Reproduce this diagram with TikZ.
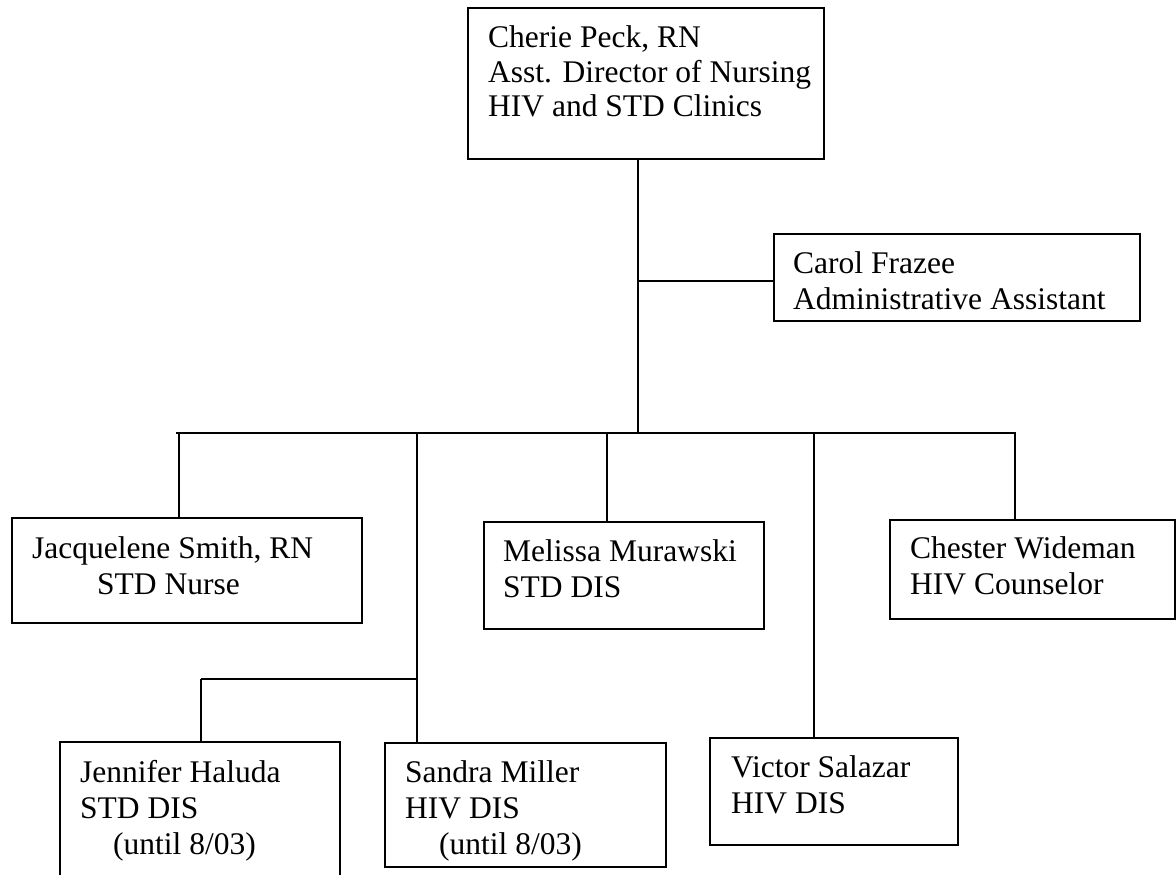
\documentclass[tikz,border=0pt]{standalone}
\usepackage{fontspec}
\setmainfont{Liberation Serif}
\begin{document}
\begin{tikzpicture}[x=1pt,y=-1pt,
  box/.style={draw,line width=1.6pt,inner sep=0pt,anchor=north west},
  txt/.style={anchor=base west,inner sep=0pt,align=left,font=\fontsize{31.5}{36}\selectfont},
  con/.style={line width=1.6pt}]
\useasboundingbox (0,0) rectangle (1176,875);
% boxes
\node[box,minimum width=356pt,minimum height=151pt] (peck) at (467,7) {};
\node[box,minimum width=366pt,minimum height=87pt] (carol) at (773,233) {};
\node[box,minimum width=350pt,minimum height=105pt] (jacq) at (11,517) {};
\node[box,minimum width=280pt,minimum height=107pt] (meli) at (483,521) {};
\node[box,minimum width=285pt,minimum height=99pt] (ches) at (889,519) {};
\node[box,minimum width=280pt,minimum height=140pt] (jenn) at (59,741) {};
\node[box,minimum width=281pt,minimum height=124pt] (sand) at (384,742) {};
\node[box,minimum width=248pt,minimum height=107pt] (vict) at (709,737) {};
% texts (anchored at the baseline of their last line)
\node[txt,font=\fontsize{31.5}{35}\selectfont] (peckT) at (488,117) {Cherie Peck, RN\\Asst. Director of Nursing\\HIV and STD Clinics};
\node[txt] (carolT) at (793,309) {Carol Frazee\\Administrative Assistant};
\node[txt] (jacqT) at (32,594) {Jacquelene Smith, RN\\\hspace*{65pt}STD Nurse};
\node[txt] (meliT) at (503,597) {Melissa Murawski\\STD DIS};
\node[txt] (chesT) at (910,594) {Chester Wideman\\HIV Counselor};
\node[txt] (jennT) at (80,854) {Jennifer Haluda\\STD DIS\\\hspace*{33pt}(until 8/03)};
\node[txt] (sandT) at (405,854) {Sandra Miller\\HIV DIS\\\hspace*{34pt}(until 8/03)};
\node[txt] (victT) at (731,813) {Victor Salazar\\HIV DIS};
% junction coordinates
\coordinate (j0) at (638,433);
\coordinate (cj) at (638,281);
\coordinate (busL) at (176,433);
\coordinate (busR) at (1016,433);
\coordinate (dJ) at (179,433);
\coordinate (dS) at (417,433);
\coordinate (dM) at (607,433);
\coordinate (dV) at (814,433);
\coordinate (dC) at (1015,433);
\coordinate (sb) at (201,679);
% connectors
\draw[con] (j0 |- peck.south) -- (j0);
\draw[con] (cj) -- (cj -| carol.west);
\draw[con] (busL) -- (busR);
\draw[con] (dJ) -- (dJ |- jacq.north);
\draw[con] (dS) -- (dS |- sand.north);
\draw[con] (dM) -- (dM |- meli.north);
\draw[con] (dV) -- (dV |- vict.north);
\draw[con] (dC) -- (dC |- ches.north);
\draw[con] (sb) -- (sb -| dS);
\draw[con] (sb) -- (sb |- jenn.north);
\end{tikzpicture}
\end{document}
